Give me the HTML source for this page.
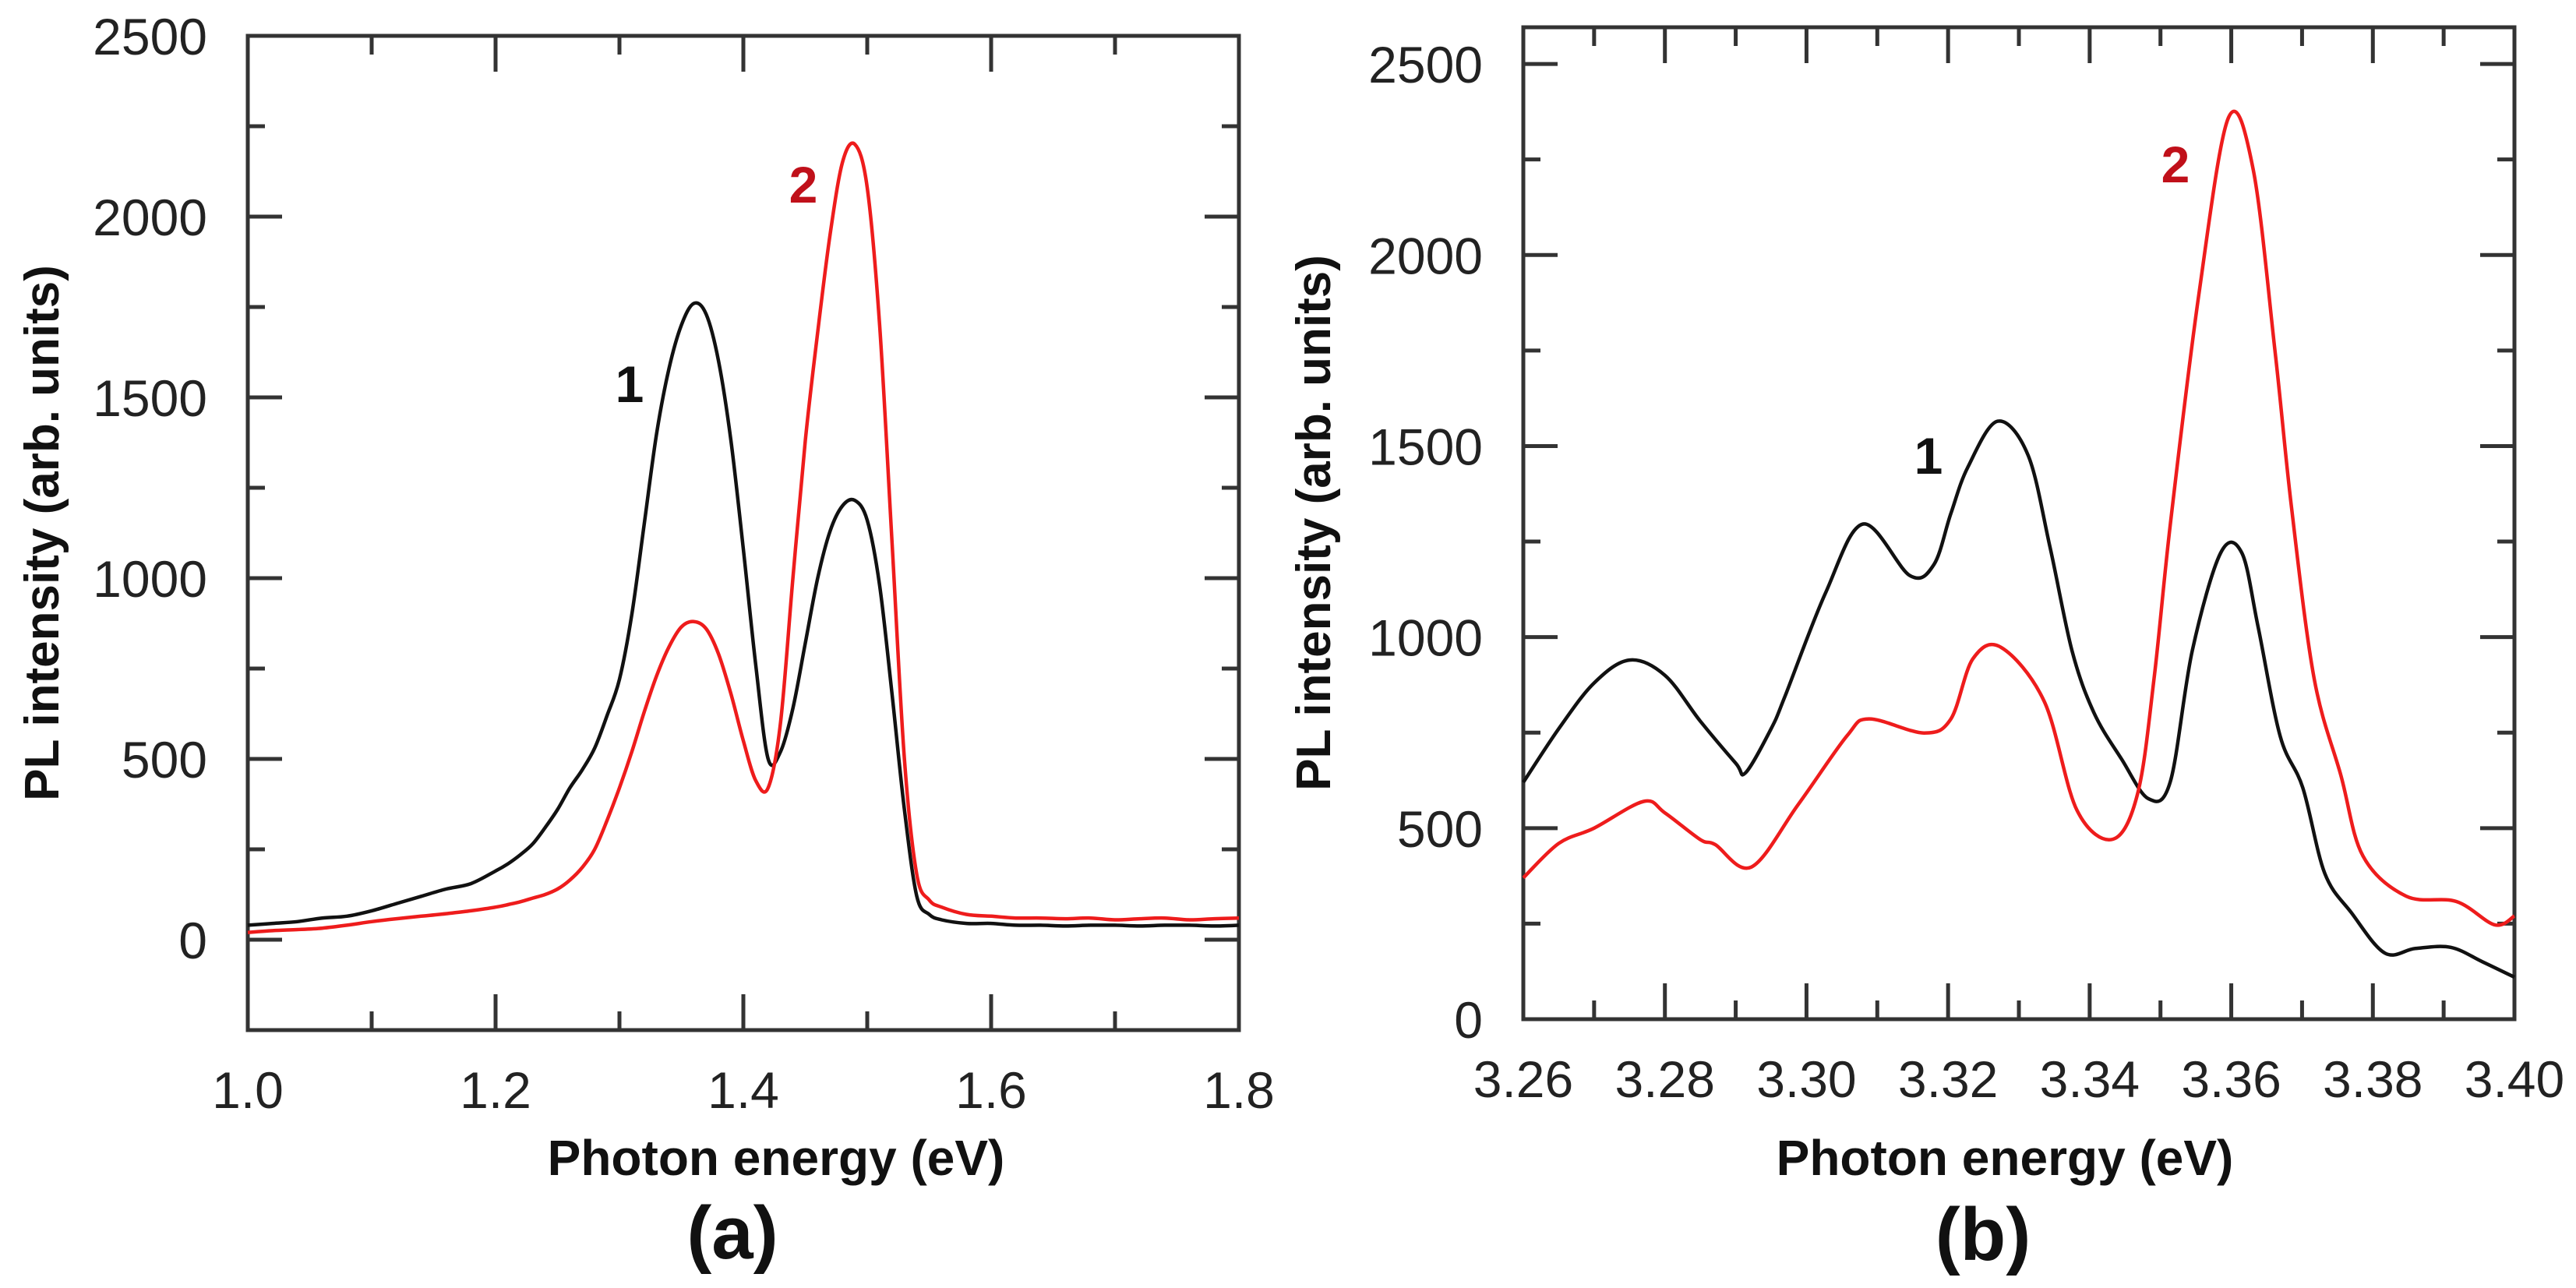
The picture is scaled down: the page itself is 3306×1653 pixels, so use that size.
<!DOCTYPE html>
<html><head><meta charset="utf-8"><style>
html,body{margin:0;padding:0;background:#fff;}
svg{display:block;font-family:"Liberation Sans",Arial,sans-serif;}
</style></head><body>
<svg id="fig" width="3306" height="1653" viewBox="0 0 3306 1653" xmlns="http://www.w3.org/2000/svg"></svg>
<script>
// Panel (a) data
const aX = [1.00,1.02,1.04,1.06,1.08,1.10,1.12,1.14,1.16,1.18,1.20,1.21,1.22,1.23,1.24,1.25,1.26,1.27,1.28,1.29,1.30,1.31,1.32,1.33,1.34,1.35,1.36,1.37,1.38,1.39,1.40,1.41,1.42,1.43,1.44,1.45,1.46,1.47,1.48,1.49,1.50,1.51,1.52,1.53,1.54,1.55,1.56,1.58,1.60,1.62,1.64,1.66,1.68,1.70,1.72,1.74,1.76,1.78,1.80];
const aBlack = [40,45,50,60,65,80,100,120,140,155,190,210,235,265,310,360,420,470,530,620,720,900,1150,1400,1580,1700,1760,1730,1600,1380,1080,760,500,520,640,820,1000,1130,1200,1215,1160,980,680,360,120,70,55,45,45,40,40,38,40,40,38,40,40,38,40];
const aRed = [20,25,28,32,40,50,58,65,72,80,90,97,105,115,125,140,165,200,250,330,420,520,630,730,810,865,880,860,790,680,550,440,420,600,1000,1380,1680,1950,2150,2200,2080,1700,1100,500,180,110,90,70,65,60,60,58,60,55,58,60,55,58,60];
// Panel (b) data
const bX = [3.260,3.265,3.270,3.275,3.280,3.285,3.290,3.2914,3.295,3.297,3.3027,3.308,3.3146,3.318,3.3204,3.3228,3.327,3.3313,3.3344,3.3375,3.3406,3.3445,3.3483,3.3514,3.3545,3.3585,3.3615,3.3638,3.3669,3.3701,3.3732,3.377,3.3817,3.386,3.391,3.3955,3.400];
const bBlack = [620,760,880,940,900,780,670,645,760,847,1116,1296,1161,1190,1324,1445,1565,1476,1235,965,802,681,577,622,965,1220,1220,1026,741,606,382,278,173,185,188,150,110];
const bRedX = [3.260,3.265,3.270,3.277,3.280,3.285,3.2871,3.2922,3.2988,3.3057,3.3088,3.3166,3.3204,3.3235,3.3275,3.3336,3.3382,3.3433,3.3468,3.3491,3.3514,3.3554,3.3596,3.3631,3.3662,3.3685,3.3717,3.3755,3.3786,3.3847,3.3918,3.3972,3.400];
const bRed = [370,460,500,570,540,470,457,398,561,741,786,749,786,943,973,831,547,471,592,892,1296,1894,2359,2224,1745,1341,892,637,427,322,308,247,270];
// ticks
const aXTicks = ["1.0","1.2","1.4","1.6","1.8"];
const aYTicks = ["0","500","1000","1500","2000","2500"];
const bXTicks = ["3.26","3.28","3.30","3.32","3.34","3.36","3.38","3.40"];
const bYTicks = ["0","500","1000","1500","2000","2500"];

const NS="http://www.w3.org/2000/svg";
const svg=document.getElementById('fig');
function mk(tag,attrs,parent){const e=document.createElementNS(NS,tag);for(const k in attrs)e.setAttribute(k,attrs[k]);(parent||svg).appendChild(e);return e;}

const A={x0:318,x1:1590,y0:46,y1:1322,xmin:1.0,xmax:1.8,ymin:-250,ymax:2500};
const B={x0:1955,x1:3227,y0:35,y1:1308,xmin:3.26,xmax:3.40,ymin:0,ymax:2596};
function sx(P,v){return P.x0+(v-P.xmin)/(P.xmax-P.xmin)*(P.x1-P.x0);}
function sy(P,v){return P.y1-(v-P.ymin)/(P.ymax-P.ymin)*(P.y1-P.y0);}

function smoothPath(pts){
  let d="M"+pts[0][0].toFixed(1)+","+pts[0][1].toFixed(1);
  for(let i=0;i<pts.length-1;i++){
    const p0=pts[Math.max(0,i-1)],p1=pts[i],p2=pts[i+1],p3=pts[Math.min(pts.length-1,i+2)];
    const c1=[p1[0]+(p2[0]-p0[0])/6,p1[1]+(p2[1]-p0[1])/6];
    const c2=[p2[0]-(p3[0]-p1[0])/6,p2[1]-(p3[1]-p1[1])/6];
    d+=" C"+c1[0].toFixed(1)+","+c1[1].toFixed(1)+" "+c2[0].toFixed(1)+","+c2[1].toFixed(1)+" "+p2[0].toFixed(1)+","+p2[1].toFixed(1);
  }
  return d;
}

function axes(P,name,xTicks,xMajor,xMinorStep,yTicks,yMinorStep){
  const g=mk('g',{});
  
  
  const st={stroke:'#333','stroke-width':5,fill:'none'};
  // ticks
  for(let v=P.xmin;v<=P.xmax+1e-9;v+=xMinorStep){
    const k=Math.round((v-P.xmin)/xMinorStep);
    const len=(k%2===0)?46:24;
    const x=sx(P,v);
    mk('line',Object.assign({x1:x,x2:x,y1:P.y1,y2:P.y1-len},st),g);
    mk('line',Object.assign({x1:x,x2:x,y1:P.y0,y2:P.y0+len},st),g);
  }
  for(let v=0;v<=P.ymax+1e-9;v+=yMinorStep){
    const k=Math.round(v/yMinorStep);
    const len=(k%2===0)?44:22;
    const y=sy(P,v);
    mk('line',Object.assign({x1:P.x0,x2:P.x0+len,y1:y,y2:y},st),g);
    mk('line',Object.assign({x1:P.x1,x2:P.x1-len,y1:y,y2:y},st),g);
  }
  mk('rect',Object.assign({x:P.x0,y:P.y0,width:P.x1-P.x0,height:P.y1-P.y0},st),g);
  xTicks.forEach(t=>{
    const tx=mk('text',{x:sx(P,parseFloat(t)),y:P.y1+100,'font-size':66,'text-anchor':'middle',fill:'#222'});
    
    
    tx.textContent=t;
  });
  yTicks.forEach(t=>{
    const ty=mk('text',{x:P.x0-52,y:sy(P,parseFloat(t))+24,'font-size':66,'text-anchor':'end',fill:'#222'});
    
    
    ty.textContent=t;
  });
}

function series(P,xs,ys,color,name){
  const pts=xs.map((x,i)=>[sx(P,x),sy(P,ys[i])]);
  const p=mk('path',{d:smoothPath(pts),stroke:color,'stroke-width':4.5,fill:'none','stroke-linejoin':'round'});
  
  
}

axes(A,'panel-a',aXTicks,0.2,0.1,aYTicks,250);
axes(B,'panel-b',bXTicks,0.02,0.01,bYTicks,250);
series(A,aX,aBlack,'#111','panel-a-curve-1');
series(A,aX,aRed,'#ee1c1c','panel-a-curve-2');
series(B,bX,bBlack,'#111','panel-b-curve-1');
series(B,bRedX,bRed,'#ee1c1c','panel-b-curve-2');

function label(x,y,txt,size,color,name,rot){
  const t=mk('text',{x:x,y:y,'font-size':size,'font-weight':'bold','text-anchor':'middle',fill:color});
  if(rot) t.setAttribute('transform','rotate(-90 '+x+' '+y+')');
  
  
  t.textContent=txt;
}
label(53+22,684,'PL intensity (arb. units)',62,'#111','panel-a-y-axis-title',true);
label(1685+22,671,'PL intensity (arb. units)',62,'#111','panel-b-y-axis-title',true);
label(996,1508,'Photon energy (eV)',64,'#111','panel-a-x-axis-title');
label(2573,1508,'Photon energy (eV)',64,'#111','panel-b-x-axis-title');
label(940,1615,'(a)',96,'#111','panel-a-caption');
label(2545,1617,'(b)',96,'#111','panel-b-caption');
label(808,516,'1',66,'#111','panel-a-curve-1-label');
label(1031,260,'2',66,'#c0101a','panel-a-curve-2-label');
label(2475,608,'1',66,'#111','panel-b-curve-1-label');
label(2792,234,'2',66,'#c0101a','panel-b-curve-2-label');
</script>
</body></html>
